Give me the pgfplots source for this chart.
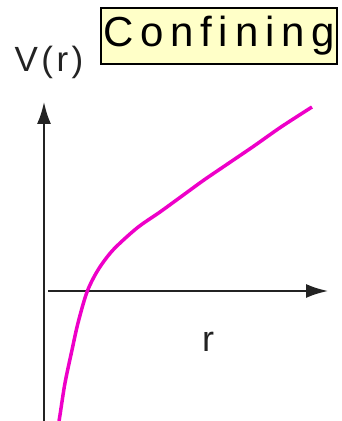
\documentclass[border=0pt]{standalone}
\usepackage{pgfplots}
\pgfplotsset{compat=1.18}
\usepackage{fontspec}
\setmainfont{Liberation Sans}
\usetikzlibrary{arrows.meta}
\definecolor{curvecol}{RGB}{238,0,200}
\definecolor{boxfill}{RGB}{255,255,200}
\definecolor{axiscol}{RGB}{35,35,35}
\begin{document}
\begin{tikzpicture}
\begin{axis}[
  scale only axis, width=341pt, height=421pt,
  xmin=-44, xmax=297, ymin=-130, ymax=291,
  hide axis, clip=true,
]
% axes
\addplot[axiscol, line width=2pt, -{Latex[length=22pt,width=14pt]}] coordinates {(0,-130) (0,189)};
\addplot[axiscol, line width=2pt, -{Latex[length=22pt,width=14pt]}] coordinates {(4,0) (284,0)};
% confining potential
\addplot[curvecol, line width=3.5pt, smooth, tension=0.5] coordinates {
(15,-130) (16,-124) (21,-92) (28,-59) (34,-32) (43,-1) (54,21) (69,41)
(93,63) (116,79) (138,95) (160,111) (185,128) (210,145) (237,164) (268,184)
};
\node[draw=black, line width=1.5pt, fill=boxfill, minimum width=236pt, minimum height=56pt, inner sep=0pt,
  font={\fontsize{42}{46}\addfontfeatures{LetterSpace=16}\selectfont}] at (axis cs:175,255) {Confining};
\node[font={\fontsize{35}{40}\addfontfeatures{LetterSpace=10}\selectfont}, text=axiscol] at (axis cs:5,229) {V(r)};
\node[font={\fontsize{36}{40}\selectfont}, text=axiscol] at (axis cs:164,-51) {r};
\end{axis}
\pgfresetboundingbox
\path[use as bounding box] (0,0) rectangle (341pt,421pt);
\end{tikzpicture}
\end{document}
